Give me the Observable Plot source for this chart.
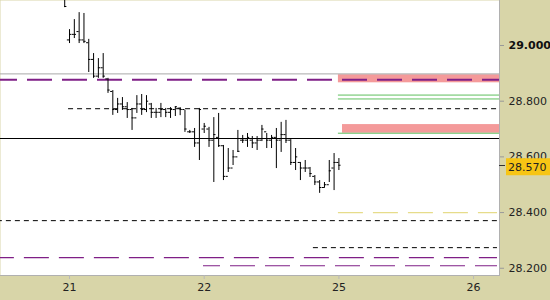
<!DOCTYPE html>
<html>
<head>
<meta charset="utf-8">
<script src="https://cdn.jsdelivr.net/npm/d3@7"></script>
<script src="https://cdn.jsdelivr.net/npm/@observablehq/plot@0.6"></script>
<style>
  html, body { margin: 0; padding: 0; background: #d8d5a8; }
  #chart svg { display: block; }
</style>
</head>
<body>
<div id="chart"></div>
<script>
// ---- data ----
const dayLabels = ["21", "22", "25", "26"];
const dayTickIdx = [1, 29, 57, 85];
const yTicks = [29.0, 28.8, 28.6, 28.4, 28.2];

const opens  = [29.18,29.02,29.04,29.05,29.02,29.01,28.95,28.89,28.92,28.88,28.835,28.77,28.79,28.78,28.77,28.74,28.79,28.77,28.79,28.76,28.76,28.77,28.76,28.77,28.775,28.77,28.69,28.69,28.65,28.70,28.70,28.66,28.67,28.64,28.53,28.56,28.60,28.66,28.66,28.66,28.65,28.66,28.69,28.66,28.67,28.66,28.68,28.66,28.58,28.58,28.56,28.56,28.53,28.51,28.49,28.50,28.56,28.58];
const highs  = [29.20,29.057,29.093,29.118,29.115,29.022,28.971,28.953,28.971,28.882,28.838,28.810,28.813,28.795,28.774,28.820,28.824,28.820,28.792,28.774,28.792,28.774,28.777,28.780,28.777,28.767,28.695,28.702,28.774,28.720,28.706,28.741,28.756,28.641,28.630,28.623,28.695,28.677,28.684,28.673,28.673,28.713,28.684,28.677,28.702,28.724,28.731,28.662,28.630,28.580,28.587,28.562,28.533,28.515,28.508,28.587,28.612,28.594];
const lows   = [29.136,29.007,29.025,29.007,29.007,28.903,28.882,28.882,28.882,28.828,28.749,28.756,28.767,28.738,28.695,28.756,28.749,28.759,28.738,28.738,28.741,28.741,28.738,28.745,28.748,28.688,28.684,28.634,28.587,28.684,28.634,28.508,28.634,28.515,28.544,28.569,28.616,28.648,28.634,28.630,28.623,28.655,28.630,28.630,28.558,28.616,28.648,28.569,28.551,28.515,28.544,28.526,28.497,28.469,28.487,28.508,28.479,28.551];
const closes = [29.14,29.04,29.04,29.02,29.015,28.95,28.89,28.92,28.89,28.84,28.77,28.79,28.78,28.77,28.74,28.79,28.77,28.80,28.76,28.76,28.77,28.76,28.77,28.78,28.77,28.70,28.69,28.65,28.77,28.71,28.66,28.68,28.64,28.53,28.56,28.60,28.62,28.66,28.67,28.65,28.66,28.70,28.66,28.67,28.66,28.68,28.66,28.58,28.60,28.56,28.56,28.54,28.51,28.49,28.50,28.55,28.58,28.570];
const lastPrice = 28.570;

// horizontal levels (price, start bar index)
const solidLevel = 28.666;
const grayLevel = 28.898;
const purpleTop = 28.877;
const purpleLow = [28.238, 28.209];
const purpleLowStart = [-14, 28.85];
const blackDash = [28.773, 28.371, 28.274];
const blackDashStart = [0.8, -14, 51.7];
const greenLevels = [28.822, 28.808, 28.685];
const yellowLevel = 28.40;
const pinkLo = [28.866, 28.685];
const pinkHi = [28.895, 28.716];
const pinkStart = [56.9, 57.75];
const zoneStart = 56.9;

// ---- build ----
const bars = highs.map((h, i) => ({i, open: opens[i], high: h, low: lows[i], close: closes[i]}));
const xMin = -13.35, xMax = 90.39, lineEnd = 89.97;
const pinks = pinkLo.map((lo, k) => ({lo, hi: pinkHi[k], start: pinkStart[k]}));
const pLow = purpleLow.map((p, k) => ({p, s: purpleLowStart[k]}));
const bDash = blackDash.map((p, k) => ({p, s: blackDashStart[k]}));
const font = "DejaVu Sans, sans-serif";

const chart = Plot.plot({
  width: 550,
  height: 300,
  marginLeft: 0,
  marginRight: 51,
  marginTop: 0,
  marginBottom: 25,
  style: {background: "#d8d5a8", fontFamily: font, fontSize: "11px", color: "#222"},
  x: {domain: [xMin, xMax]},
  y: {domain: [28.174, 29.1616]},
  marks: [
    Plot.frame({fill: "white", stroke: null}),
    Plot.rect(pinks, {x1: "start", x2: xMax, y1: "lo", y2: "hi", fill: "#f49a9a"}),
    Plot.ruleY([grayLevel], {x1: xMin, x2: xMax, stroke: "#a8a8a8", strokeWidth: 1}),
    Plot.ruleY([purpleTop], {x1: xMin, x2: xMax, stroke: "#7f1f86", strokeWidth: 2, strokeDasharray: "25,10", strokeDashoffset: 8}),
    Plot.ruleY(pLow, {y: "p", x1: "s", x2: lineEnd, stroke: "#7f1f86", strokeWidth: 1.2, strokeDasharray: "25,10", strokeDashoffset: 8}),
    Plot.ruleY(greenLevels, {x1: zoneStart, x2: xMax, stroke: "#5fbf5f", strokeWidth: 1}),
    Plot.ruleY([yellowLevel], {x1: zoneStart, x2: lineEnd, stroke: "#e6dc8a", strokeWidth: 1.2, strokeDasharray: "25,10"}),
    Plot.ruleY(bDash, {y: "p", x1: "s", x2: lineEnd, stroke: "black", strokeWidth: 1, strokeDasharray: "5,4"}),
    Plot.ruleY([solidLevel], {x1: xMin, x2: xMax, stroke: "black", strokeWidth: 1}),
    Plot.ruleX(bars, {x: "i", y1: "low", y2: "high", stroke: "black", strokeWidth: 1}),
    Plot.ruleY(bars, {y: "open", x1: d => d.i - 0.45, x2: d => d.i, stroke: "black", strokeWidth: 1}),
    Plot.ruleY(bars, {y: "close", x1: d => d.i, x2: d => d.i + 0.45, stroke: "black", strokeWidth: 1}),
    Plot.frame({anchor: "right", stroke: "#b0b0b0"}),
    Plot.frame({anchor: "bottom", stroke: "#b0b0b0"}),
    Plot.axisY(yTicks.filter(t => t !== 29.0), {anchor: "right", tickSize: 4, tickPadding: 5, stroke: "#999", tickFormat: d3.format(".3f"), fill: "#222", fontSize: 11}),
    Plot.axisY([29.0], {anchor: "right", tickSize: 4, tickPadding: 5, stroke: "#999", tickFormat: d3.format(".3f"), fill: "#111", fontWeight: "bold", fontSize: 11}),
    Plot.axisX(dayTickIdx, {anchor: "bottom", tickSize: 4, tickPadding: 4, stroke: "#b8b8b8", tickFormat: (d, k) => dayLabels[k], fill: "#222", fontSize: 11})
  ]
});

document.getElementById("chart").appendChild(chart);

// current price marker in the right margin
const ys = chart.scale("y");
const yp = ys.apply(lastPrice);
const svg = d3.select(chart);
const g = svg.append("g").attr("text-anchor", "start");
g.append("line").attr("x1", 499).attr("x2", 505).attr("y1", Math.round(yp) + 0.5).attr("y2", Math.round(yp) + 0.5).attr("stroke", "#333");
g.append("rect").attr("x", 506).attr("y", yp - 6.5).attr("width", 44).attr("height", 17).attr("fill", "#f7c514");
g.append("text").attr("x", 508).attr("y", yp + 2).attr("dy", "0.35em").attr("text-anchor", "start")
  .attr("font-family", font).attr("font-size", 11).attr("fill", "#222").text(d3.format(".3f")(lastPrice));
</script>
</body>
</html>
